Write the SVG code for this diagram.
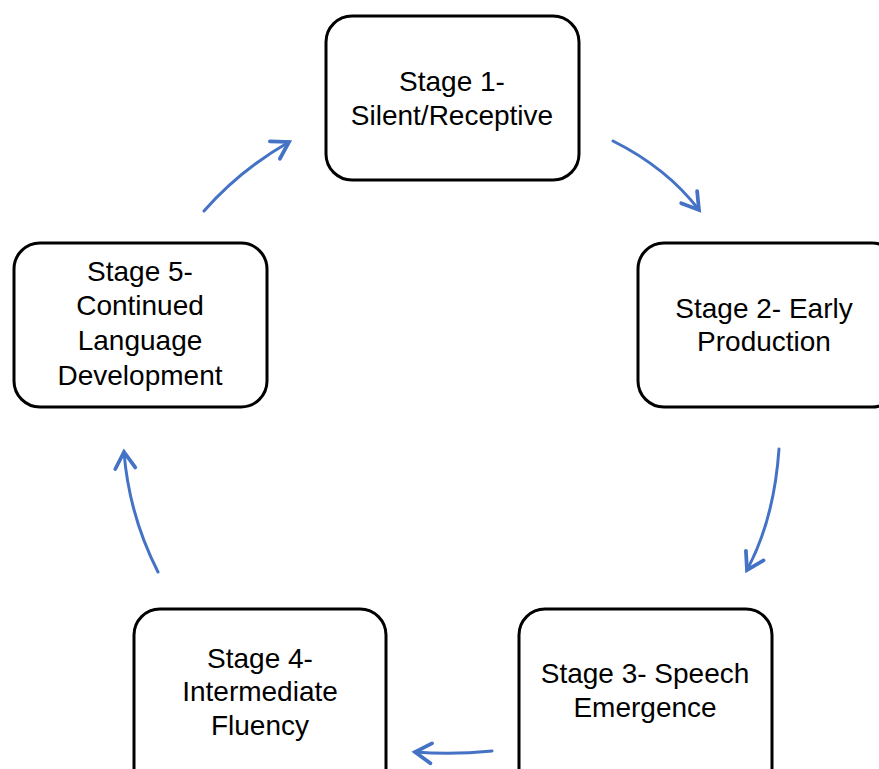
<svg xmlns="http://www.w3.org/2000/svg" width="879" height="769" viewBox="0 0 879 769">
  <style>
    .box { fill: #ffffff; stroke: #000000; stroke-width: 3; }
    .label { font-family: "Liberation Sans", "Open Sans", sans-serif; font-size: 28px; fill: #000000; text-anchor: middle; }
    .flow { fill: none; stroke: #4472C4; stroke-width: 3; stroke-linecap: round; marker-end: url(#head); }
  </style>
  <defs>
    <marker id="head" markerUnits="userSpaceOnUse" markerWidth="30" markerHeight="30" refX="0" refY="0" viewBox="-16 -12 20 24" orient="auto">
      <path d="M -13 -8 L 0 0 L -13 8" fill="none" stroke="#4472C4" stroke-width="3" stroke-linecap="round" stroke-linejoin="miter"/>
    </marker>
  </defs>
  <rect width="879" height="769" fill="#ffffff"/>

  <g id="connectors">
    <path class="flow" d="M 613 141 Q 667 168 699 210"/>
    <path class="flow" d="M 779 449 Q 774 520 747 570"/>
    <path class="flow" d="M 492 751 Q 452 755 415 752"/>
    <path class="flow" d="M 158 572 Q 129 515 124 452"/>
    <path class="flow" d="M 204 211 Q 240 170 289 142"/>
  </g>

  <g id="stage1">
    <rect class="box" x="326" y="16" width="253" height="164" rx="26"/>
    <text class="label" x="452" y="91">Stage 1-</text>
    <text class="label" x="452" y="125">Silent/Receptive</text>
  </g>
  <g id="stage2">
    <rect class="box" x="638" y="243" width="260" height="164" rx="26"/>
    <text class="label" x="764" y="318">Stage 2- Early</text>
    <text class="label" x="764" y="351">Production</text>
  </g>
  <g id="stage3">
    <rect class="box" x="519" y="609" width="253" height="190" rx="26"/>
    <text class="label" x="645" y="683">Stage 3- Speech</text>
    <text class="label" x="645" y="717">Emergence</text>
  </g>
  <g id="stage4">
    <rect class="box" x="134" y="609" width="252" height="190" rx="26"/>
    <text class="label" x="260" y="668">Stage 4-</text>
    <text class="label" x="260" y="701">Intermediate</text>
    <text class="label" x="260" y="735">Fluency</text>
  </g>
  <g id="stage5">
    <rect class="box" x="14" y="243" width="253" height="164" rx="26"/>
    <text class="label" x="140" y="281">Stage 5-</text>
    <text class="label" x="140" y="315">Continued</text>
    <text class="label" x="140" y="350">Language</text>
    <text class="label" x="140" y="385">Development</text>
  </g>
</svg>
